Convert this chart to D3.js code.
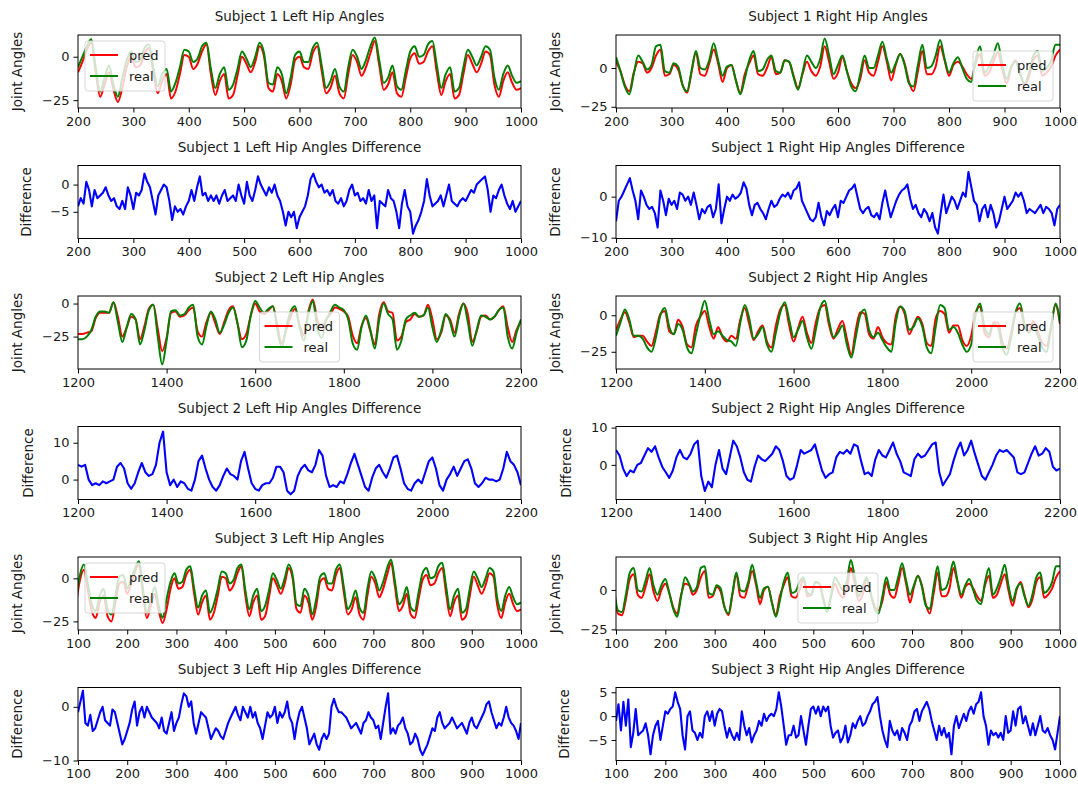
<!DOCTYPE html>
<html>
<head>
<meta charset="utf-8">
<script src="https://cdn.jsdelivr.net/npm/d3@7"></script>
<style>
  body { margin: 0; background: #fff; }
  svg { display: block; }
</style>
</head>
<body>
<script>
// ---- data -------------------------------------------------------------
// angle series are sampled every 8 frames (subject 2: every 10),
// difference series every 5 frames (subject 2: every 8)

const s1XTicks = [200, 300, 400, 500, 600, 700, 800, 900, 1000];
const s2XTicks = [1200, 1400, 1600, 1800, 2000, 2200];
const s3XTicks = [100, 200, 300, 400, 500, 600, 700, 800, 900, 1000];

const s1LeftReal = [
  -6, 0, 6, 10, -6, -20, -12, -5, -16, -23,
  -12, -2, 3, -3, -2, 5, 7, -6, -17, -10,
  -7, -20, -15, -6, 4, 3, -3, -1, 6, 8,
  -7, -18, -10, -6, -19, -16, -7, 3, -1, -6,
  0, 8, 2, -15, -16, -6, -10, -21, -12, 1,
  3, -3, -3, 5, 8, -5, -18, -14, -7, -17,
  -20, -6, 4, 0, -7, -2, 6, 11, -2, -15,
  -12, -5, -17, -19, -8, 3, 6, 0, 1, 7,
  9, -5, -18, -10, -6, -20, -18, -6, 4, 0,
  -5, 0, 6, 4, -12, -19, -10, -5, -11, -15,
  -14];
const s1LeftPred = [
  -9, -3, 4, 8, -9, -23, -16, -9, -19, -26,
  -18, -6, 0, -6, -5, 2, 5, -9, -21, -14,
  -10, -24, -20, -10, 1, 0, -7, -4, 3, 7,
  -10, -22, -14, -10, -24, -22, -11, 0, -4, -9,
  -3, 6, 0, -18, -20, -10, -14, -24, -16, -2,
  0, -6, -7, 2, 6, -8, -21, -18, -11, -21,
  -24, -10, 1, -3, -11, -6, 2, 9, -5, -19,
  -16, -9, -21, -23, -12, -1, 2, -4, -3, 3,
  6, -9, -22, -14, -10, -24, -22, -10, 1, -4,
  -9, -4, 3, 1, -16, -23, -14, -9, -15, -19,
  -18];
const s1RightReal = [
  7, -2, -12, -17, -4, 8, 4, -1, 2, 14,
  15, -2, -3, 3, 1, -11, -15, -2, 11, 0,
  -1, 5, 16, 5, -5, 1, 2, -8, -17, -7,
  5, 11, -2, -1, 5, 8, -2, -3, 5, 4,
  -6, -14, -3, 8, 4, 0, 6, 19, 8, -4,
  2, 8, -2, -12, -15, -4, 8, 0, 0, 8,
  17, 6, -3, 3, 9, 2, -10, -12, 2, 15,
  0, 1, 8, 18, 6, -3, 3, 7, 0, -7,
  -9, 5, 14, -3, 1, 8, 16, 2, -7, 1,
  4, -4, -10, -3, 8, 11, -2, 0, 5, 15,
  15];
const s1RightPred = [
  4, -2, -11, -15, -3, 4, 3, -3, 0, 8,
  12, -5, -4, 2, -1, -11, -16, -3, 10, -4,
  -5, 3, 12, 3, -9, 0, 2, -8, -16, -4,
  3, 8, -4, -5, 0, 7, -4, -3, 5, 4,
  -5, -13, -4, 4, -2, -5, 1, 14, 4, -7,
  -3, 7, -2, -10, -13, -7, 5, -3, -5, 4,
  14, 4, -8, 2, 9, 3, -9, -15, -2, 11,
  -4, -4, 1, 14, 5, -5, 2, 4, 1, -4,
  -7, 3, 9, -5, -3, 4, 10, -1, -10, 0,
  5, -3, -11, -6, 5, 8, -5, -3, 1, 8,
  12];
const s1LeftDiff = [
  -4, -2.5, -3.5, 0.5, -1, -4, -1, -2.5, -2, -1.5,
  -0.5, -2, -3, -2.5, -4, -4.5, -3, -4.5, -0.5, -2,
  -4.5, -1.5, -2, -1, 2, 0.5, -0.5, -3, -5.5, -2,
  -1, 0, -0.5, -3, -6.5, -4, -5, -4.5, -5.5, -4,
  -3, -1, -3, -0.5, 1.5, -2, -1.5, -3, -2, -3,
  -2, -3.5, -2, -1, -3, -2.5, -2, -3, 0, -2,
  -3.5, 0.5, -2, -3, -1, 1.5, 0, -1, -2, -0.5,
  -1.5, 0, -2, -3, -5, -7.5, -5, -6, -5, -8,
  -6, -5, -4, -2, 1, 2, 0.5, -0.5, 0, -1.5,
  -1, -2, -1, -3, -3.5, -2.5, -4, -3, -1, 0,
  -2, -1.5, -3, -2.5, -3.5, -1, -3, -2, -8, -3,
  -3.5, -4, -1, -2.5, -3, -5, -8, -3.5, -1, -4,
  -5, -9, -7.5, -6.5, -5, -3, 1, -2, -4, -3.5,
  -3, -2, -4, -2, 0, -3, -3.5, -4, -3, -2.5,
  -3, -2, -1, -1.5, 0, 0.5, 1, 1.5, -1, -5,
  -2, -2.5, -1, 0, -2, -3.5, -4.5, -3, -5, -4,
  -3];
const s1RightDiff = [
  -6, -1, 0, 1.5, 3, 4.5, 1.5, -1, -5.5, 1.5,
  0, -2, -3, -2.5, -4, -7.5, 1.5, -1, -4.5, -0.5,
  -2, -1, -3, 1, 0.5, -1, 0, -2, 1, -2,
  -5.5, -3, -4, -2.5, -2, -5, -3, 3, -6.5, -3,
  0, -1, 0.5, -0.5, 0, 1, 3.5, 2, -2, -4.5,
  -2, -1.5, -3, -4, -5.5, -3, -1, -2.5, -2, -0.5,
  0.5, 0, 1, -0.5, 1.5, 2, 3.5, -1, -2.5, -4,
  -5.5, -6, -5, -1.5, -5, -7, -3.5, -4.5, -3, -2,
  -5, -1, -1.5, 0, 1.5, 2, 3, 0, -3, -4,
  -3, -2.5, -4.5, -5, -4, -5.5, -1.5, 1.5, -2, -5,
  -3, -1, 0.5, 1.5, 2, 3, -0.5, -3, -2, -4,
  -5, -3, -4, -6, -4, -7.5, -9, -4, 0.5, -4,
  -2, 0, -1, -3, -1, 1, 0, 6, 2.5, -1,
  -2, -6, -3, -2, -5, -2, -4, -7.5, -6, -3,
  0, -3, -2, -1, 1, 0, 1, -1, -4, -3,
  -3.5, -4, -3, -2, -4, -2.5, -3, -4, -7, -3,
  -2];

const s2LeftReal = [
  -27, -27, -25, -20, -10, -6, -6, -7, 1, -14,
  -29, -18, -8, -12, -31, -20, -5, -1, -25, -46,
  -28, -6, -5, -9, -8, -3, -1, -25, -31, -17,
  -6, -12, -22, -16, -7, -3, -15, -33, -28, -9,
  2, -3, -7, -4, -2, -20, -33, -18, -6, -2,
  -18, -28, -8, 2, -18, -26, -13, -6, -1, -3,
  -5, -12, -30, -35, -18, -9, -20, -34, -12, 0,
  -8, -12, -35, -28, -12, -9, -7, -10, -9, -3,
  -18, -29, -20, -8, -14, -25, -10, 0, -14, -32,
  -20, -9, -10, -12, -10, -5, -3, -25, -34, -22,
  -12];
const s2LeftPred = [
  -23, -23, -22, -21, -11, -7, -7, -7, 1, -10,
  -25, -18, -10, -12, -27, -17, -4, -1, -19, -36,
  -26, -7, -6, -10, -9, -5, -3, -21, -25, -14,
  -7, -15, -23, -14, -5, -2, -15, -27, -23, -9,
  0, -6, -8, -5, -2, -17, -30, -20, -10, -4,
  -16, -24, -6, 3, -12, -19, -12, -8, -3, -4,
  -6, -10, -24, -30, -17, -11, -21, -31, -8, 1,
  -6, -7, -28, -25, -14, -12, -8, -10, -9, -1,
  -12, -27, -22, -9, -12, -22, -8, 0, -8, -29,
  -21, -10, -9, -12, -10, -5, -2, -18, -29, -20,
  -13];
const s2RightReal = [
  -14, -5, 4, -3, -14, -14, -16, -22, -25, -15,
  0, 5, -8, -13, -6, -10, -22, -26, -13, 0,
  10, -3, -13, -11, -14, -17, -18, -21, -5, 7,
  -2, -16, -13, -8, -20, -25, -12, 2, 9, -3,
  -15, -10, -4, -15, -23, -10, 5, 10, -4, -15,
  -12, -7, -20, -29, -15, 0, 4, -10, -15, -12,
  -17, -22, -25, -5, 6, 3, -10, -8, -2, -8,
  -22, -26, -8, 7, 5, -10, -8, -12, -20, -25,
  -20, 0, 8, -8, -13, -6, -8, -22, -27, -15,
  2, 8, -6, -12, -8, -14, -22, -25, -8, 8,
  -5];
const s2RightPred = [
  -10, -3, 2, -5, -15, -14, -14, -18, -21, -11,
  1, 3, -11, -13, -3, -8, -20, -22, -7, -1,
  3, -8, -16, -8, -15, -18, -14, -16, -3, 5,
  -6, -17, -11, -7, -18, -22, -7, 4, 7, -7,
  -18, -9, -1, -12, -19, -5, 5, 7, -7, -16,
  -9, -4, -16, -27, -10, 2, 1, -13, -16, -8,
  -15, -19, -20, -1, 6, 1, -13, -7, -1, -6,
  -19, -21, -2, 3, 1, -12, -7, -7, -17, -21,
  -14, 2, 6, -12, -15, -5, -5, -18, -23, -12,
  2, 5, -8, -11, -4, -11, -19, -21, -7, 7,
  -6];
const s2LeftDiff = [
  4, 3.5, 4, 0, -1.5, -1, -1.5, -0.5, -1, -0.5,
  0, 3.5, 4.5, 3, -1, -2.5, -1, 2, 4.5, 2,
  1, 1.5, 4, 10, 13, 2, -1.5, 0, -2, -0.5,
  -1, -2.5, -3, 0, 5, 6.5, 3, 0, -2, -3,
  -1.5, 1, 3, 1.5, 1, 0, 5, 7.5, 3, -1,
  -2.5, -3, -1.5, -1, -1, 0.5, 3.5, 3.5, 2, -3,
  -4, -3, 1, 3, 4, 2.5, 2, 4, 8, 6.5,
  1, -2, -1.5, -2, -0.5, -1, 1.5, 4.5, 7, 4,
  1, -2, -3, 0.5, 3, 4, 2, 0.5, 3, 6,
  6.5, 3, -1, -2.5, -3, -1, 0, -1, 2, 5,
  6, 3, -1.5, -3, 0, 1.5, 3.5, 1, 3, 5,
  5.5, 3, -1, -2, -1, 0.5, 0, 0, -0.5, 0,
  3, 7.5, 5, 4, 2, -1.5];
const s2RightDiff = [
  4, 2.5, -1, -3, -1.5, -2, 0, 0.5, 2.5, 4.5,
  3.5, 5, 2, -0.5, -2, -3.5, -1.5, 2, 4, 2,
  1.5, 3, 5.5, 6.5, -3, -7, -4.5, -6, 0, 4,
  -1, -2.5, 2, 6.5, 5, 2, -2, -4, -4.5, -0.5,
  2.5, 1.5, 1, 2, 3, 5, 4, 1, -3, -4,
  -3.5, 0, 4, 3, 3.5, 4, 5.5, 2, -1.5, -3.5,
  -2.5, -2, 2, 3.5, 3, 4, 3, 5.5, 5, 1,
  -2.5, -2, -3, 1.5, 4, 2.5, 2, 4, 6, 3,
  1, -2, -2.5, -3, 1.5, 3, 2, 2.5, 4, 5.5,
  6, -2, -5.5, -4, -2.5, 1, 4, 6, 2.5, 4,
  6.5, 3, 0, -3, -4, -2, 0, 2.5, 4, 3.5,
  4, 3, 2, -2, -2.5, -2, 0.5, 3, 5, 2.5,
  3, 4.5, 3.5, -0.5, -1.5, -1];

const s3LeftReal = [
  -12, 2, 8, -3, -15, -19, -10, -6, -18, -21, -10, 1, 2,
  -6, 0, 6, 10, -6, -20, -12, -5, -16, -23,
  -12, -2, 3, -3, -2, 5, 7, -6, -17, -10,
  -7, -20, -15, -6, 4, 3, -3, -1, 6, 8,
  -7, -18, -10, -6, -19, -16, -7, 3, -1, -6,
  0, 8, 2, -15, -16, -6, -10, -21, -12, 1,
  3, -3, -3, 5, 8, -5, -18, -14, -7, -17,
  -20, -6, 4, 0, -7, -2, 6, 11, -2, -15,
  -12, -5, -17, -19, -8, 3, 6, 0, 1, 7,
  9, -5, -18, -10, -6, -20, -18, -6, 4, 0,
  -5, 0, 6, 4, -12, -19, -10, -5, -11, -15,
  -14];
const s3LeftPred = [
  -15, -1, 5, -7, -19, -23, -14, -10, -22, -25, -14, -3, -2,
  -9, -3, 4, 8, -9, -23, -16, -9, -19, -26,
  -18, -6, 0, -6, -5, 2, 5, -9, -21, -14,
  -10, -24, -20, -10, 1, 0, -7, -4, 3, 7,
  -10, -22, -14, -10, -24, -22, -11, 0, -4, -9,
  -3, 6, 0, -18, -20, -10, -14, -24, -16, -2,
  0, -6, -7, 2, 6, -8, -21, -18, -11, -21,
  -24, -10, 1, -3, -11, -6, 2, 9, -5, -19,
  -16, -9, -21, -23, -12, -1, 2, -4, -3, 3,
  6, -9, -22, -14, -10, -24, -22, -10, 1, -4,
  -9, -4, 3, 1, -16, -23, -14, -9, -15, -19,
  -18];
const s3RightReal = [
  2, -13, -14, -3, 11, 14, 0, -1, 6, 14, 3, -3, 3,
  7, -2, -12, -17, -4, 8, 4, -1, 2, 14,
  15, -2, -3, 3, 1, -11, -15, -2, 11, 0,
  -1, 5, 16, 5, -5, 1, 2, -8, -17, -7,
  5, 11, -2, -1, 5, 8, -2, -3, 5, 4,
  -6, -14, -3, 8, 4, 0, 6, 19, 8, -4,
  2, 8, -2, -12, -15, -4, 8, 0, 0, 8,
  17, 6, -3, 3, 9, 2, -10, -12, 2, 15,
  0, 1, 8, 18, 6, -3, 3, 7, 0, -7,
  -9, 5, 14, -3, 1, 8, 16, 2, -7, 1,
  4, -4, -10, -3, 8, 11, -2, 0, 5, 15,
  15];
const s3RightPred = [
  -1, -15, -16, -6, 7, 10, -3, -5, 2, 10, -1, -7, 0,
  4, -2, -11, -15, -3, 4, 3, -3, 0, 8,
  12, -5, -4, 2, -1, -11, -16, -3, 10, -4,
  -5, 3, 12, 3, -9, 0, 2, -8, -16, -4,
  3, 8, -4, -5, 0, 7, -4, -3, 5, 4,
  -5, -13, -4, 4, -2, -5, 1, 14, 4, -7,
  -3, 7, -2, -10, -13, -7, 5, -3, -5, 4,
  14, 4, -8, 2, 9, 3, -9, -15, -2, 11,
  -4, -4, 1, 14, 5, -5, 2, 4, 1, -4,
  -7, 3, 9, -5, -3, 4, 10, -1, -10, 0,
  5, -3, -11, -6, 5, 8, -5, -3, 1, 8,
  12];
const s3LeftDiff = [
  -1, 1, 3, -3, -3.5, -1.5, -4.5, -4, -2.5, -1,
  0, -2.5, -3, -3.5, -0.5, -1, -3, -5, -7, -6,
  -4.5, -3, -0.5, 1, -3.5, -1, 0, -2, 0, -1,
  -2, -2.5, -3, -4, -2, -4.5, -5, -3, -1, -4.5,
  -3, -2, 0.5, 2.5, 2, 0, 1, -3, -5, -3,
  -1, -1.5, -2, -4, -6, -5, -4, -4.5, -5.5, -6,
  -4.5, -3, -2, -1, 0, -1.5, -2.5, 0, -1, -2,
  0, -2, -1, -3, -4, -6, -3.5, -1, -2, -1.5,
  0, -3, -1, -2, -1, 1, -2, -3, -6, -3,
  -1, 0, -2, -4, -7, -6, -5, -7, -8, -6,
  -5, -6, -5, 0, 1.5, 0, -1, -1, -1.5, -2,
  -3, -4, -3.5, -3, -4, -5, -3, -2.5, -1, -2,
  -2.5, -4, -3.5, -6, -3, 0, 2.5, -5, -4, -5,
  -3.5, -3, -2, -4, -5, -7, -6.5, -5, -6, -8,
  -9, -8, -7, -5.5, -4, -4.5, -2, -1, -3, -4,
  -3.5, -3, -2, -3, -4, -3.5, -3, -4, -5, -3,
  -2, -3.5, -4, -3, -2, -1, 0.5, 1, -1, -2.5,
  -4, -3, -3.5, -2, 0, -2, -3, -3.5, -4.5, -6,
  -3];
const s3RightDiff = [
  -1, 2.5, -3, 3, -2, 3.5, -6.5, -3.5, 1.5, -4,
  -3.5, -3, -1.5, -4, -8, -4, -2, -1, -5, -2,
  1, 0.5, 1.5, 2, 5, 3, 1.5, -4, -7, 0,
  1, -3, -3.5, -5, -3.5, -4.5, 0, 1, -1, 1,
  -2, 0.5, 1.5, 1, -2, -4.5, -2.5, -4, -5, -3.5,
  -5, 1, -2, -4, -2.5, -5.5, -4, -3, -1, -2,
  0.5, -1, 0, 0.5, 0, 1.5, 5, 2, -2, -6,
  -4, -4, -2, -4.5, -4, 0, -3, -6, -2, 1.5,
  2, 0.5, 2, 0, 2, 1, 2, -2, -4.5, -3.5,
  -3, -5.5, -4.5, -2, -5.5, -4, -1.5, -2.5, -1, 0,
  -2, -1.5, 0, 1, 2.5, 3, 4, 0, -3, -5,
  -6.5, -1, -3, -4, -3, -5, -2.5, -3.5, -5, -2,
  -1, 1, 1.5, -1, 1, 2, 3, 1.5, -1, -3,
  -5, -2, -4, -2.5, -4.5, -3.5, -8, -2, 0, -2.5,
  -1, 0.5, -1, 1, 2, 0.5, 2.5, 3, 5, 0,
  -2, -6, -3, -4, -3.5, -4.5, -3.5, -5, 0, -3.5,
  -3, 1, -2, 1.5, 2, -1.5, 0, -2, -4, -1.5,
  -4, -2, 0, -3, -3.5, -2.5, -4, -5, -7, -3.5,
  0];

const seriesNames = ['pred', 'real'];

// ---- layout -------------------------------------------------------------
const W = 1078, H = 791;
const colLeft = [78, 616];
const colWidth = [443, 444];
const firstTop = 35, rowGap = 130.5, plotH = 73;
const font = '"DejaVu Sans", "Liberation Sans", sans-serif';
const textColor = '#1a1a1a';
const colors = { pred: '#ff0000', real: '#008000', diff: '#0000ff' };

function angle(title, row, col, xDomain, xTicks, yDomain, start, step, pred, real, legend) {
  return {
    title, row, col, xDomain, xTicks, yDomain, yTicks: [-25, 0], ylabel: 'Joint Angles', legend,
    series: [
      { values: pred, start, step, color: colors.pred, smooth: true, width: 2 },
      { values: real, start, step, color: colors.real, smooth: true, width: 2 }
    ]
  };
}
function diff(title, row, col, xDomain, xTicks, yDomain, yTicks, start, step, values) {
  return {
    title, row, col, xDomain, xTicks, yDomain, yTicks, ylabel: 'Difference',
    series: [{ values, start, step, color: colors.diff, smooth: false, width: 2.1 }]
  };
}

const panels = [
  angle('Subject 1 Left Hip Angles', 0, 0, [200, 1000], s1XTicks, [-29.5, 12.5], 200, 8, s1LeftPred, s1LeftReal, 'upper left'),
  angle('Subject 1 Right Hip Angles', 0, 1, [200, 1000], s1XTicks, [-25.8, 21.3], 200, 8, s1RightPred, s1RightReal, 'lower right'),
  diff('Subject 1 Left Hip Angles Difference', 1, 0, [200, 1000], s1XTicks, [-9.9, 3.5], [-5, 0], 200, 5, s1LeftDiff),
  diff('Subject 1 Right Hip Angles Difference', 1, 1, [200, 1000], s1XTicks, [-10.2, 7.6], [-10, 0], 200, 5, s1RightDiff),
  angle('Subject 2 Left Hip Angles', 2, 0, [1200, 2200], s2XTicks, [-49.5, 5.7], 1200, 10, s2LeftPred, s2LeftReal, 'lower center'),
  angle('Subject 2 Right Hip Angles', 2, 1, [1200, 2200], s2XTicks, [-36.8, 13.2], 1200, 10, s2RightPred, s2RightReal, 'lower right'),
  diff('Subject 2 Left Hip Angles Difference', 3, 0, [1200, 2200], s2XTicks, [-5.4, 14.4], [0, 10], 1200, 8, s2LeftDiff),
  diff('Subject 2 Right Hip Angles Difference', 3, 1, [1200, 2200], s2XTicks, [-9.3, 10.3], [0, 10], 1200, 8, s2RightDiff),
  angle('Subject 3 Left Hip Angles', 4, 0, [100, 1000], s3XTicks, [-30, 12.4], 96, 8, s3LeftPred, s3LeftReal, 'upper left'),
  angle('Subject 3 Right Hip Angles', 4, 1, [100, 1000], s3XTicks, [-25.4, 20.9], 96, 8, s3RightPred, s3RightReal, 'lower center'),
  diff('Subject 3 Left Hip Angles Difference', 5, 0, [100, 1000], s3XTicks, [-10, 3.6], [-10, 0], 100, 5, s3LeftDiff),
  diff('Subject 3 Right Hip Angles Difference', 5, 1, [100, 1000], s3XTicks, [-9.3, 6], [-5, 0, 5], 100, 5, s3RightDiff)
];

// ---- drawing ------------------------------------------------------------
const svg = d3.select('body').append('svg').attr('width', W).attr('height', H);
svg.append('rect').attr('width', W).attr('height', H).attr('fill', '#fff');

function styleAxis(a) {
  a.attr('font-size', null).attr('font-family', null);
  a.select('.domain').remove();
  a.selectAll('line').attr('stroke', '#000').attr('stroke-width', 1);
  a.selectAll('text').attr('font-size', 13).attr('font-family', font).attr('fill', textColor);
}

panels.forEach((p, idx) => {
  const left = colLeft[p.col];
  const top = firstTop + p.row * rowGap;
  const w = colWidth[p.col];
  const x = d3.scaleLinear().domain(p.xDomain).range([0, w]);
  const y = d3.scaleLinear().domain(p.yDomain).range([plotH, 0]);
  const g = svg.append('g').attr('transform', `translate(${left},${top})`);

  const clipId = `clip-${idx}`;
  g.append('clipPath').attr('id', clipId)
    .append('rect').attr('width', w).attr('height', plotH);
  const plot = g.append('g').attr('clip-path', `url(#${clipId})`);

  p.series.forEach(s => {
    const line = d3.line()
      .x((d, i) => x(s.start + i * s.step))
      .y(d => y(d))
      .curve(s.smooth ? d3.curveMonotoneX : d3.curveLinear);
    plot.append('path')
      .datum(s.values)
      .attr('d', line)
      .attr('fill', 'none')
      .attr('stroke', s.color)
      .attr('stroke-width', s.width)
      .attr('stroke-linejoin', 'round');
  });

  // axes frame
  g.append('rect').attr('width', w).attr('height', plotH)
    .attr('fill', 'none').attr('stroke', '#000').attr('stroke-width', 1);

  const xAxis = g.append('g').attr('transform', `translate(0,${plotH})`)
    .call(d3.axisBottom(x).tickValues(p.xTicks).tickFormat(d3.format('d')).tickSize(4.5).tickPadding(4));
  styleAxis(xAxis);
  const yAxis = g.append('g')
    .call(d3.axisLeft(y).tickValues(p.yTicks).tickFormat(d3.format('d')).tickSize(4.5).tickPadding(4));
  styleAxis(yAxis);

  // title
  g.append('text')
    .attr('x', w / 2).attr('y', -14)
    .attr('text-anchor', 'middle')
    .attr('font-family', font).attr('font-size', 13.5).attr('fill', textColor)
    .text(p.title);

  // y label, placed left of the widest tick label
  const tickW = d3.max(yAxis.selectAll('text').nodes(), n => n.getComputedTextLength());
  g.append('text')
    .attr('transform', `translate(${-tickW - 33},${plotH / 2}) rotate(-90)`)
    .attr('text-anchor', 'middle').attr('dy', '0.35em')
    .attr('font-family', font).attr('font-size', 13.5).attr('fill', textColor)
    .text(p.ylabel);

  // legend
  if (p.legend) {
    const bw = 80, bh = 50, pad = 7;
    let bx, by;
    if (p.legend === 'upper left') { bx = pad; by = pad - 1; }
    else if (p.legend === 'lower right') { bx = w - pad - bw; by = plotH - pad - bh; }
    else { bx = (w - bw) / 2; by = plotH - pad - bh; }
    const lg = g.append('g').attr('transform', `translate(${bx},${by})`);
    lg.append('rect').attr('width', bw).attr('height', bh).attr('rx', 3)
      .attr('fill', '#fff').attr('fill-opacity', 0.8)
      .attr('stroke', '#ccc').attr('stroke-opacity', 0.8);
    seriesNames.forEach((name, i) => {
      const ry = 14 + i * 21;
      lg.append('line').attr('x1', 5).attr('x2', 33).attr('y1', ry).attr('y2', ry)
        .attr('stroke', p.series[i].color).attr('stroke-width', 2);
      lg.append('text').attr('x', 44).attr('y', ry).attr('dy', '0.35em')
        .attr('font-family', font).attr('font-size', 13).attr('fill', textColor)
        .text(name);
    });
  }
});
</script>
</body>
</html>
